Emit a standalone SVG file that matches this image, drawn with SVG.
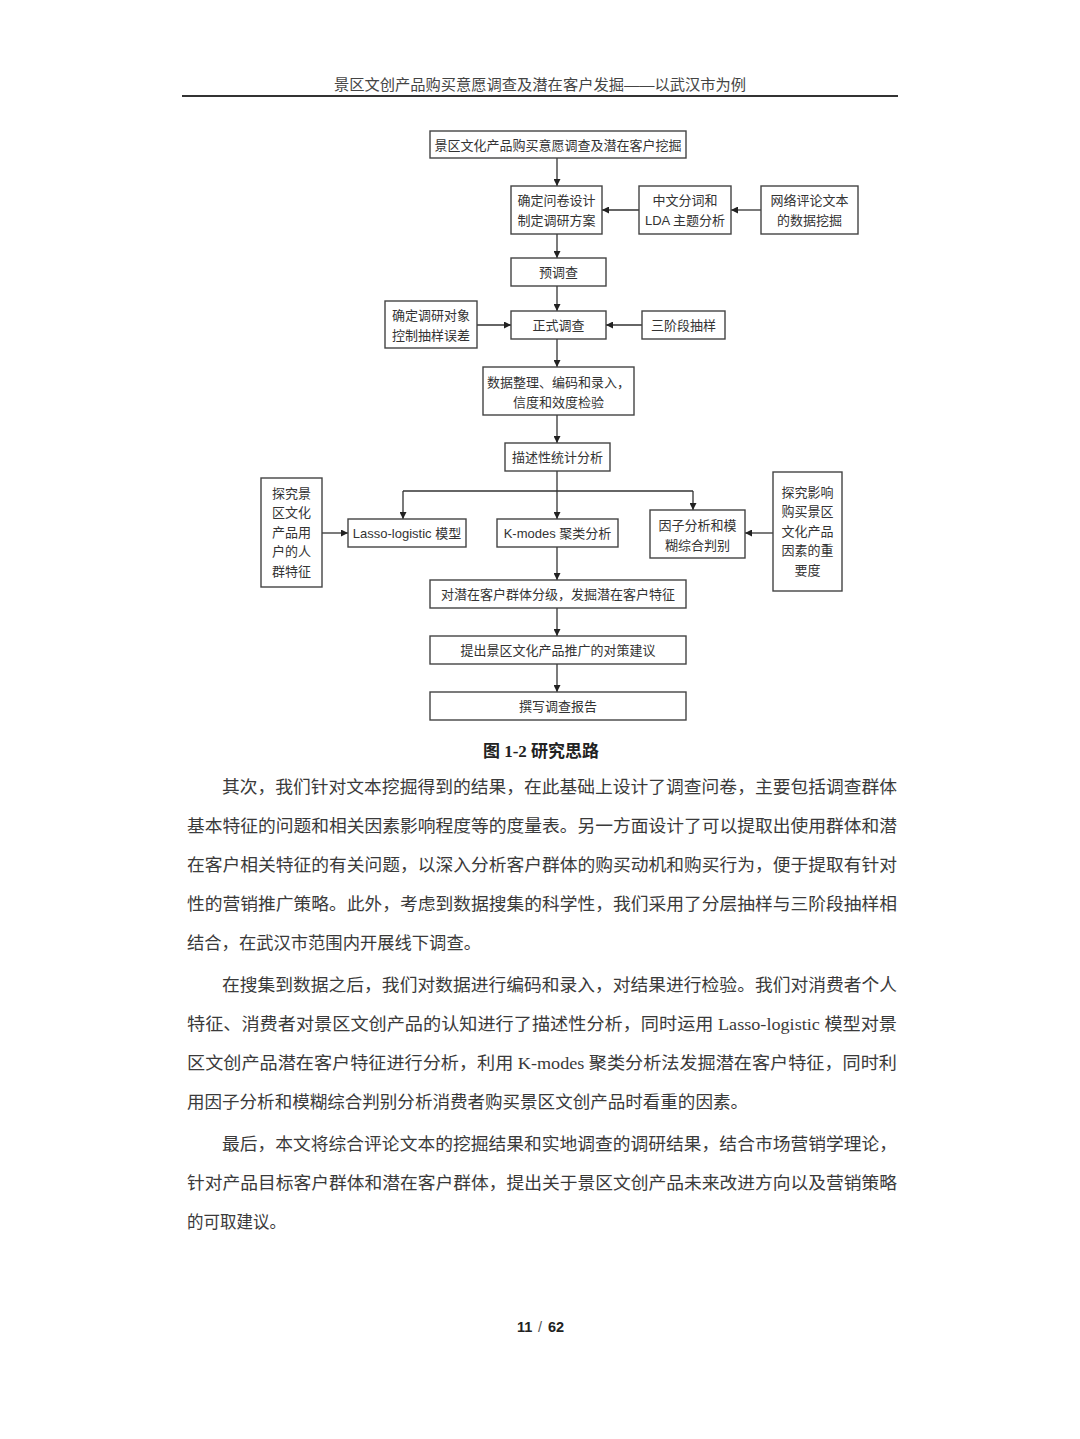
<svg xmlns="http://www.w3.org/2000/svg" width="1080" height="1439" viewBox="0 0 1080 1439">
<defs>
<marker id="ah" viewBox="0 0 10 10" refX="10" refY="5" markerWidth="7" markerHeight="7" orient="auto" markerUnits="userSpaceOnUse">
<path d="M0,0 L10,5 L0,10 z" fill="#222"/>
</marker>
<style>
.bx{fill:#fff;stroke:#444;stroke-width:1.4}
.t{font-family:"Liberation Sans","Noto Sans CJK SC",sans-serif;font-size:13px;fill:#333;text-anchor:middle}
.c{fill:none;stroke:#333;stroke-width:1.3}
.body{font-family:"Liberation Serif","Noto Sans CJK SC",serif;font-size:17.5px;fill:#3a3a3a}
</style>
</defs>
<rect width="1080" height="1439" fill="#fff"/>
<text x="540" y="90" font-family="Liberation Sans,'Noto Sans CJK SC',sans-serif" font-size="15" fill="#444" text-anchor="middle" textLength="412" lengthAdjust="spacingAndGlyphs">景区文创产品购买意愿调查及潜在客户发掘——以武汉市为例</text>
<line x1="182" y1="96" x2="898" y2="96" stroke="#333" stroke-width="2"/>

<g id="connectors">
<line class="c" x1="557" y1="158" x2="557" y2="186" marker-end="url(#ah)"/>
<line class="c" x1="639" y1="210" x2="602" y2="210" marker-end="url(#ah)"/>
<line class="c" x1="761" y1="210" x2="731" y2="210" marker-end="url(#ah)"/>
<line class="c" x1="557" y1="234" x2="557" y2="258" marker-end="url(#ah)"/>
<line class="c" x1="557" y1="286" x2="557" y2="311" marker-end="url(#ah)"/>
<line class="c" x1="477" y1="325" x2="511" y2="325" marker-end="url(#ah)"/>
<line class="c" x1="642" y1="325" x2="606" y2="325" marker-end="url(#ah)"/>
<line class="c" x1="557" y1="339" x2="557" y2="367" marker-end="url(#ah)"/>
<line class="c" x1="557" y1="415" x2="557" y2="443" marker-end="url(#ah)"/>
<line class="c" x1="557" y1="471" x2="557" y2="519" marker-end="url(#ah)"/>
<line class="c" x1="403" y1="491" x2="693" y2="491"/>
<line class="c" x1="403" y1="491" x2="403" y2="519" marker-end="url(#ah)"/>
<line class="c" x1="693" y1="491" x2="693" y2="510" marker-end="url(#ah)"/>
<line class="c" x1="322" y1="533" x2="348" y2="533" marker-end="url(#ah)"/>
<line class="c" x1="773" y1="533" x2="745" y2="533" marker-end="url(#ah)"/>
<line class="c" x1="557" y1="547" x2="557" y2="580" marker-end="url(#ah)"/>
<line class="c" x1="557" y1="608" x2="557" y2="636" marker-end="url(#ah)"/>
<line class="c" x1="557" y1="664" x2="557" y2="692" marker-end="url(#ah)"/>
</g>

<g id="n-title"><rect class="bx" x="430" y="131" width="256" height="27"/><text class="t" x="558" y="149.5">景区文化产品购买意愿调查及潜在客户挖掘</text></g>
<g id="n-design"><rect class="bx" x="511" y="186" width="91" height="48"/><text class="t" x="556.5" y="205">确定问卷设计</text><text class="t" x="556.5" y="225">制定调研方案</text></g>
<g id="n-lda"><rect class="bx" x="639" y="186" width="92" height="48"/><text class="t" x="685" y="205">中文分词和</text><text class="t" x="685" y="225">LDA 主题分析</text></g>
<g id="n-web"><rect class="bx" x="761" y="186" width="97" height="48"/><text class="t" x="809.5" y="205">网络评论文本</text><text class="t" x="809.5" y="225">的数据挖掘</text></g>
<g id="n-pre"><rect class="bx" x="511" y="258" width="95" height="28"/><text class="t" x="558.5" y="277">预调查</text></g>
<g id="n-formal"><rect class="bx" x="511" y="311" width="95" height="28"/><text class="t" x="558.5" y="330">正式调查</text></g>
<g id="n-object"><rect class="bx" x="385" y="301" width="92" height="47"/><text class="t" x="431" y="319.5">确定调研对象</text><text class="t" x="431" y="339.5">控制抽样误差</text></g>
<g id="n-three"><rect class="bx" x="642" y="311" width="83" height="28"/><text class="t" x="683.5" y="330">三阶段抽样</text></g>
<g id="n-data"><rect class="bx" x="483" y="367" width="151" height="48"/><text class="t" x="558.5" y="386.5">数据整理、编码和录入，</text><text class="t" x="558.5" y="406.5">信度和效度检验</text></g>
<g id="n-desc"><rect class="bx" x="505" y="443" width="105" height="28"/><text class="t" x="557.5" y="462">描述性统计分析</text></g>
<g id="n-lasso"><rect class="bx" x="348" y="519" width="118" height="28"/><text class="t" x="407" y="538">Lasso-logistic 模型</text></g>
<g id="n-kmodes"><rect class="bx" x="497" y="519" width="121" height="28"/><text class="t" x="557.5" y="538">K-modes 聚类分析</text></g>
<g id="n-factor"><rect class="bx" x="650" y="510" width="95" height="48"/><text class="t" x="697.5" y="529.5">因子分析和模</text><text class="t" x="697.5" y="549.5">糊综合判别</text></g>
<g id="n-left"><rect class="bx" x="261" y="478" width="61" height="109"/>
<text class="t" x="291.5" y="497.5">探究景</text><text class="t" x="291.5" y="517">区文化</text><text class="t" x="291.5" y="536.5">产品用</text><text class="t" x="291.5" y="556">户的人</text><text class="t" x="291.5" y="575.5">群特征</text></g>
<g id="n-right"><rect class="bx" x="773" y="472" width="69" height="119"/>
<text class="t" x="807.5" y="496.5">探究影响</text><text class="t" x="807.5" y="516">购买景区</text><text class="t" x="807.5" y="535.5">文化产品</text><text class="t" x="807.5" y="555">因素的重</text><text class="t" x="807.5" y="574.5">要度</text></g>
<g id="n-grade"><rect class="bx" x="430" y="580" width="256" height="28"/><text class="t" x="558" y="599">对潜在客户群体分级，发掘潜在客户特征</text></g>
<g id="n-advice"><rect class="bx" x="430" y="636" width="256" height="28"/><text class="t" x="558" y="655">提出景区文化产品推广的对策建议</text></g>
<g id="n-report"><rect class="bx" x="430" y="692" width="256" height="28"/><text class="t" x="558" y="711">撰写调查报告</text></g>

<text x="541" y="757" font-family="Liberation Serif,'Noto Sans CJK SC',serif" font-size="17" font-weight="bold" fill="#222" text-anchor="middle">图 1-2 研究思路</text>

<g id="body-text">
<text class="body" x="222" y="793" textLength="675" lengthAdjust="spacingAndGlyphs">其次，我们针对文本挖掘得到的结果，在此基础上设计了调查问卷，主要包括调查群体</text>
<text class="body" x="187" y="832" textLength="710" lengthAdjust="spacingAndGlyphs">基本特征的问题和相关因素影响程度等的度量表。另一方面设计了可以提取出使用群体和潜</text>
<text class="body" x="187" y="871" textLength="710" lengthAdjust="spacingAndGlyphs">在客户相关特征的有关问题，以深入分析客户群体的购买动机和购买行为，便于提取有针对</text>
<text class="body" x="187" y="910" textLength="710" lengthAdjust="spacingAndGlyphs">性的营销推广策略。此外，考虑到数据搜集的科学性，我们采用了分层抽样与三阶段抽样相</text>
<text class="body" x="187" y="949" textLength="294" lengthAdjust="spacingAndGlyphs">结合，在武汉市范围内开展线下调查。</text>
<text class="body" x="222" y="991" textLength="675" lengthAdjust="spacingAndGlyphs">在搜集到数据之后，我们对数据进行编码和录入，对结果进行检验。我们对消费者个人</text>
<text class="body" x="187" y="1030" textLength="710" lengthAdjust="spacingAndGlyphs">特征、消费者对景区文创产品的认知进行了描述性分析，同时运用 Lasso-logistic 模型对景</text>
<text class="body" x="187" y="1069" textLength="710" lengthAdjust="spacingAndGlyphs">区文创产品潜在客户特征进行分析，利用 K-modes 聚类分析法发掘潜在客户特征，同时利</text>
<text class="body" x="187" y="1108" textLength="561" lengthAdjust="spacingAndGlyphs">用因子分析和模糊综合判别分析消费者购买景区文创产品时看重的因素。</text>
<text class="body" x="222" y="1150" textLength="675" lengthAdjust="spacingAndGlyphs">最后，本文将综合评论文本的挖掘结果和实地调查的调研结果，结合市场营销学理论，</text>
<text class="body" x="187" y="1189" textLength="710" lengthAdjust="spacingAndGlyphs">针对产品目标客户群体和潜在客户群体，提出关于景区文创产品未来改进方向以及营销策略</text>
<text class="body" x="187" y="1228" textLength="99" lengthAdjust="spacingAndGlyphs">的可取建议。</text>
</g>

<text y="1332" font-family="Liberation Sans,sans-serif" font-size="14.5" font-weight="bold" fill="#222"><tspan x="517">11</tspan><tspan x="538" font-weight="normal" fill="#555">/</tspan><tspan x="548">62</tspan></text>
</svg>
